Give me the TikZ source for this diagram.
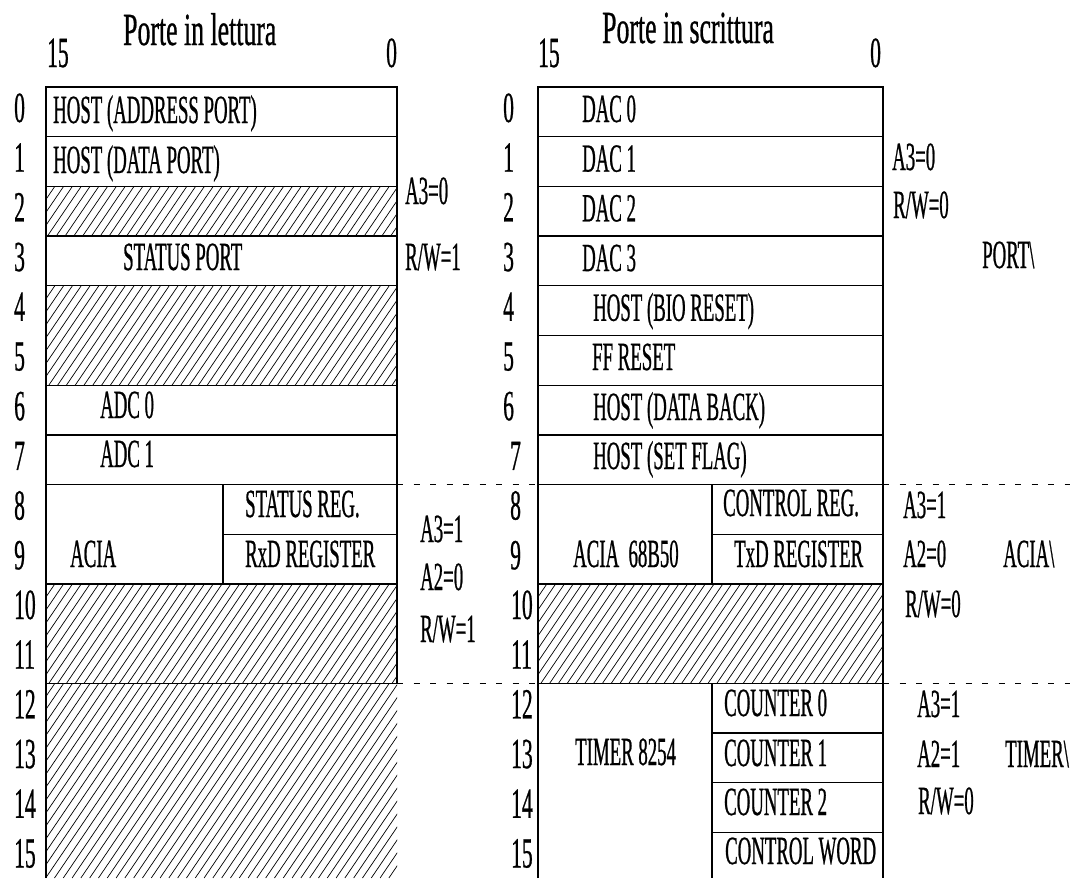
\documentclass[tikz,border=0pt]{standalone}
\usepackage{fontspec}
\newfontfamily\bodyfont{Liberation Serif}[FakeStretch=0.47,FakeBold=0.6]
\newfontfamily\numfont{Liberation Serif}[FakeStretch=0.5,FakeBold=0.6]
\newfontfamily\titlefont{Liberation Serif}[FakeStretch=0.56,FakeBold=0.6]
\newcommand{\hatchbox}[4]{%
  \begin{scope}
    \clip (#1,#2) rectangle (#3,#4);
    \pgfmathsetmacro{\hdx}{0.68*(#4-#2)}
    \pgfmathsetmacro{\hxa}{#1-\hdx}
    \pgfmathsetmacro{\hxb}{\hxa+8.8}
    \foreach \hx in {\hxa,\hxb,...,#3}{\draw[hatchline] (\hx,#4) -- ({\hx+\hdx},#2);}
  \end{scope}}
\begin{document}
\begin{tikzpicture}[x=1pt,y=-1pt,
  frame/.style={line width=1.3pt, black},
  hatchline/.style={line width=0.7pt},
  sepline/.style={dash pattern=on 6pt off 10.5pt, line width=1pt},
  lbl/.style={inner sep=0pt, anchor=base west, font=\bodyfont\fontsize{40}{42}\selectfont},
  num/.style={inner sep=0pt, anchor=base west, font=\numfont\fontsize{43}{46}\selectfont},
  ttl/.style={inner sep=0pt, anchor=base west, font=\titlefont\fontsize{46}{50}\selectfont}]
\useasboundingbox (0,0) rectangle (1070,878);
\fill[white] (0,0) rectangle (1070,878);

% ---------- hatching ----------
\hatchbox{46}{186.4}{397}{236.1}
\hatchbox{46}{285.8}{397}{385.2}
\hatchbox{46}{584}{397}{683.4}
\hatchbox{46}{683.4}{397}{878}
\hatchbox{538}{584}{883}{683.4}

% ---------- left table ----------
\coordinate (LTL) at (46,87);
\coordinate (LTR) at (397,87);
\draw[frame] (46,878) -- (LTL) -- (LTR) -- (397,683.4);
\foreach \yy in {136.7,186.4,236.1,285.8,385.2,434.9,484.6,584,683.4}
  \draw[frame] (46,\yy) -- (397,\yy);
\draw[frame] (223,484.6) -- (223,584);
\draw[frame] (223,534.3) -- (397,534.3);

% ---------- right table ----------
\coordinate (RTL) at (538,87);
\coordinate (RTR) at (883,87);
\draw[frame] (538,878) -- (RTL) -- (RTR) -- (883,878);
\foreach \yy in {136.7,186.4,236.1,285.8,335.5,385.2,434.9,484.6,584,683.4}
  \draw[frame] (538,\yy) -- (883,\yy);
\draw[frame] (712,484.6) -- (712,584);
\draw[frame] (712,683.4) -- (712,878);
\foreach \yy in {534.3,733.1,782.8,832.5}
  \draw[frame] (712,\yy) -- (883,\yy);

% ---------- dashed separators ----------
\coordinate (dA1) at (397,484.6);
\coordinate (dA2) at (538,484.6);
\coordinate (dA3) at (883,484.6);
\coordinate (dA4) at (1070,484.6);
\coordinate (dB1) at (397,683.4);
\coordinate (dB2) at (538,683.4);
\coordinate (dB3) at (883,683.4);
\coordinate (dB4) at (1070,683.4);
\draw[sepline] (dA1) -- (dA2);
\draw[sepline] (dA3) -- (dA4);
\draw[sepline] (dB1) -- (dB2);
\draw[sepline] (dB3) -- (dB4);

% ---------- row numbers ----------
\foreach \k in {0,...,15}{
  \pgfmathsetmacro{\yy}{87+49.7*\k+35}
  \pgfmathsetmacro{\xx}{\k<7 ? 503 : (\k<10 ? 510 : 511)}
  \node[num] (ln\k) at (14,\yy) {\k};
  \node[num] (rn\k) at (\xx,\yy) {\k};
}

% ---------- left texts ----------
\node[ttl] (ltitle) at (123,45) {Porte in lettura};
\node[num] (lh15) at (47,67) {15};
\node[num] (lh0) at (386,67) {0};
\node[lbl] (l0) at (53,123) {HOST (ADDRESS PORT)};
\node[lbl] (l1) at (53,173) {HOST (DATA PORT)};
\node[lbl] (l3) at (123,270) {STATUS PORT};
\node[lbl] (l6) at (100,418) {ADC 0};
\node[lbl] (l7) at (100,467) {ADC 1};
\node[lbl] (lacia) at (70,567) {ACIA};
\node[lbl] (l8) at (245,517) {STATUS REG.};
\node[lbl] (l9) at (245,567) {RxD REGISTER};
\node[lbl] (la1) at (405,204) {A3=0};
\node[lbl] (la2) at (405,270) {R/W=1};
\node[lbl] (la3) at (420,542) {A3=1};
\node[lbl] (la4) at (420,590) {A2=0};
\node[lbl] (la5) at (420,642) {R/W=1};

% ---------- right texts ----------
\node[ttl] (rtitle) at (602,43) {Porte in scrittura};
\node[num] (rh15) at (538,67) {15};
\node[num] (rh0) at (870,67) {0};
\node[lbl] (r0) at (582,122) {DAC 0};
\node[lbl] (r1) at (582,171.7) {DAC 1};
\node[lbl] (r2) at (582,221.4) {DAC 2};
\node[lbl] (r3) at (582,271.1) {DAC 3};
\node[lbl] (r4) at (593,320.8) {HOST (BIO RESET)};
\node[lbl] (r5) at (592,370) {FF RESET};
\node[lbl] (r6) at (593,420) {HOST (DATA BACK)};
\node[lbl] (r7) at (593,469) {HOST (SET FLAG)};
\node[lbl] (racia) at (573,567) {ACIA\ \ 68B50};
\node[lbl] (r8) at (723,516) {CONTROL REG.};
\node[lbl] (r9) at (734,567) {TxD REGISTER};
\node[lbl] (rtimer) at (575,765) {TIMER 8254};
\node[lbl] (r12) at (724,716) {COUNTER 0};
\node[lbl] (r13) at (724,766) {COUNTER 1};
\node[lbl] (r14) at (724,815) {COUNTER 2};
\node[lbl] (r15) at (725,864) {CONTROL WORD};
\node[lbl] (ra1) at (892,170) {A3=0};
\node[lbl] (ra2) at (893,218) {R/W=0};
\node[lbl] (rport) at (982,268) {PORT\textbackslash};
\node[lbl] (rb1) at (903,518) {A3=1};
\node[lbl] (rb2) at (903,567) {A2=0};
\node[lbl] (rb3) at (905,617) {R/W=0};
\node[lbl] (racianame) at (1003,567) {ACIA\textbackslash};
\node[lbl] (rc1) at (917,717) {A3=1};
\node[lbl] (rc2) at (917,767) {A2=1};
\node[lbl] (rc3) at (918,814) {R/W=0};
\node[lbl] (rtimername) at (1005,767) {TIMER\textbackslash};
\end{tikzpicture}
\end{document}
